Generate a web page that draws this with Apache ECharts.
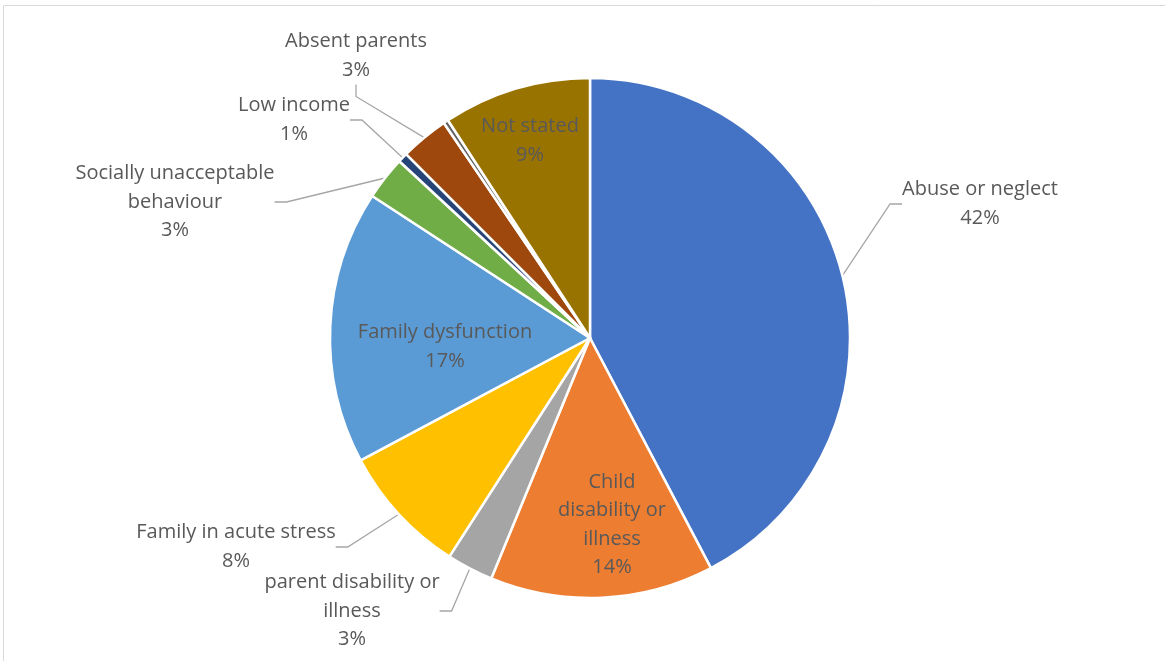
<!DOCTYPE html>
<html>
<head>
<meta charset="utf-8">
<script src="https://cdn.jsdelivr.net/npm/echarts@6/dist/echarts.min.js"></script>
<style>
  html, body { margin: 0; padding: 0; background: #fff; }
  #chart { width: 1165px; height: 661px; }
</style>
</head>
<body>
<div id="chart"></div>
<script>
// reasons for placement, share of children (%)
const categories = [
  "Abuse or neglect",
  "Child\ndisability or\nillness",
  "parent disability or\nillness",
  "Family in acute stress",
  "Family dysfunction",
  "Socially unacceptable\nbehaviour",
  "Low income",
  "Absent parents",
  "Other",
  "Not stated"
];
const values = [42.3, 13.9, 2.9, 8.1, 17.0, 2.7, 0.6, 3.0, 0.3, 9.2];
const colors = ["#4472C4", "#ED7D31", "#A5A5A5", "#FFC000", "#5B9BD5",
                "#70AD47", "#264478", "#9E480E", "#636363", "#997300"];

// where each label sits (text centre), like the Excel best-fit layout
const labelSpots = [
  [980, 204], [612, 525], [352, 611], [236, 547], [445, 347],
  [175, 202], [294, 120], [356, 56], null, [530, 141]
];
const insideLabels = [1, 4, 9];

const chart = echarts.init(document.getElementById("chart"));

const data = categories.map((name, i) => ({
  name: name,
  value: values[i],
  itemStyle: { color: colors[i] },
  label: { show: labelSpots[i] !== null },
  labelLine: { show: labelSpots[i] !== null && !insideLabels.includes(i) }
}));

chart.setOption({
  animation: false,
  graphic: [{
    type: "rect",
    shape: { x: 3.5, y: 5.5, width: 1300, height: 800 },
    style: { fill: "none", stroke: "#d9d9d9", lineWidth: 1 },
    silent: true
  }],
  series: [{
    type: "pie",
    center: [590, 338],
    radius: 260,
    startAngle: 90,
    clockwise: true,
    avoidLabelOverlap: false,
    itemStyle: { borderColor: "#fff", borderWidth: 2.5 },
    label: {
      position: "outside",
      color: "#595959",
      fontFamily: "Open Sans",
      fontSize: 20,
      lineHeight: 28.5,
      align: "center",
      formatter: p => p.name + "\n" + Math.round(p.percent) + "%"
    },
    labelLine: {
      lineStyle: { color: "#a6a6a6", width: 1.3 },
      length: 20,
      length2: 12
    },
    labelLayout: p => {
      const s = labelSpots[p.dataIndex];
      if (!s) return {};
      return { x: s[0], y: s[1], align: "center", verticalAlign: "middle" };
    },
    data: data
  }]
});
</script>
</body>
</html>
